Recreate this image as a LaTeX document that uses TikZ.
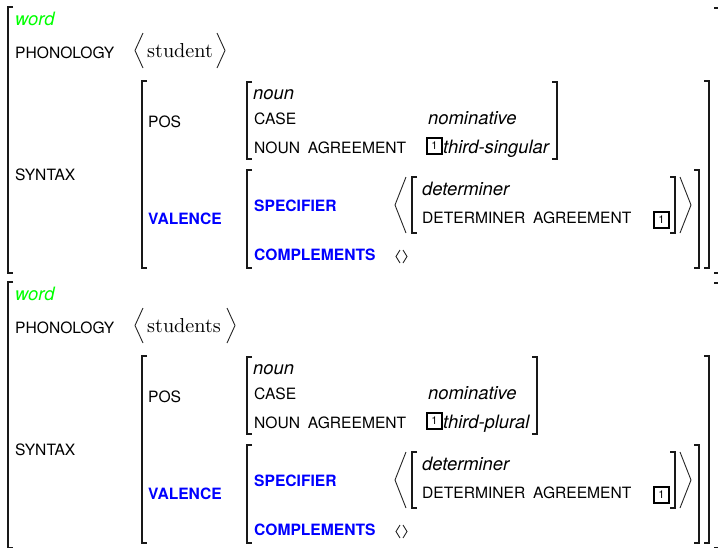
\documentclass[tikz,border=0pt]{standalone}
\usepackage{fontspec}
\newfontfamily\hv{TeX Gyre Heros}
\newfontfamily\hvattr[WordSpace=1.8]{TeX Gyre Heros}
\newfontfamily\cmten{lmroman10-regular.otf}
\tikzset{
  brk/.style={line width=1.6pt, black!90},
  ang/.style={line width=0.9pt, black!85, line join=miter},
  attr/.style={anchor=base west, inner sep=0pt, font=\hvattr\fontsize{15.6}{16}\selectfont},
  vattr/.style={attr, font=\hvattr\bfseries\fontsize{15.6}{16}\selectfont, text=blue},
  typ/.style={anchor=base west, inner sep=0pt, font=\hv\itshape\fontsize{18.4}{20}\selectfont},
  phon/.style={anchor=base west, inner sep=0pt, font=\cmten\fontsize{20.2}{22}\selectfont},
  tagbox/.style={draw, line width=2pt, minimum width=15.5pt, minimum height=16pt, inner sep=0pt, font=\hv\fontsize{11}{11}\selectfont},
}
\newcommand\lbrk[3]{\draw[brk] (#1+5,#2) -- (#1,#2) -- (#1,#3) -- (#1+5,#3);}
\newcommand\rbrk[3]{\draw[brk] (#1-5,#2) -- (#1,#2) -- (#1,#3) -- (#1-5,#3);}
\newcommand\avmblock[6]{%
\begin{scope}[yshift=#2]
  \node[typ, text=green] (#1word) at (15,25) {word};
  \node[attr] (#1phonl) at (15,58) {PHONOLOGY};
  \node[phon] (#1phonv) at (147,57) {#3};
  \node[attr] (#1syn) at (15,180) {SYNTAX};
  \node[attr] (#1pos) at (148,127) {POS};
  \node[vattr] (#1val) at (148,224) {VALENCE};
  \node[typ] (#1noun) at (253,99) {noun};
  \node[attr] (#1case) at (254,124) {CASE};
  \node[attr] (#1nagr) at (254,153) {NOUN AGREEMENT};
  \node[typ] (#1nom) at (428,124) {nominative};
  \node[tagbox] (#1tagA) at (434.5,146) {1};
  \node[typ] (#1agr) at (443,153) {#4};
  \node[vattr] (#1spr) at (254,211) {SPECIFIER};
  \node[vattr] (#1comps) at (254,260) {COMPLEMENTS};
  \node[typ] (#1det) at (422,195) {determiner};
  \node[attr] (#1dagr) at (422,223) {DETERMINER AGREEMENT};
  \node[tagbox] (#1tagB) at (661.5,219.5) {1};
  \lbrk{8}{7}{273}
  \lbrk{142}{81}{268}
  \lbrk{247}{82}{159}
  \lbrk{247}{170}{268}
  \lbrk{412}{177}{233}
  \rbrk{#5}{82}{159}
  \rbrk{675}{177}{233}
  \rbrk{699}{170}{268}
  \rbrk{709}{81}{268}
  \rbrk{719}{8}{273}
  \draw[ang] (143,33) -- (135,50.5) -- (143,68);
  \draw[ang] (#6,33) -- (#6+8,50.5) -- (#6,68);
  \draw[ang] (406,177) -- (395,205) -- (406,233);
  \draw[ang] (680,177) -- (691,205) -- (680,233);
  \draw[ang] (400,250) -- (396,256.5) -- (400,263);
  \draw[ang] (403,250) -- (407,256.5) -- (403,263);
\end{scope}}
\begin{document}
\begin{tikzpicture}[x=1pt,y=-1pt]
  \useasboundingbox (0,0) rectangle (718,547);
  \clip (0,0) rectangle (718,547);
  \avmblock{a}{0pt}{student}{third-singular}{557}{217}
  \avmblock{b}{-275pt}{students}{third-plural}{537}{227}
\end{tikzpicture}
\end{document}
